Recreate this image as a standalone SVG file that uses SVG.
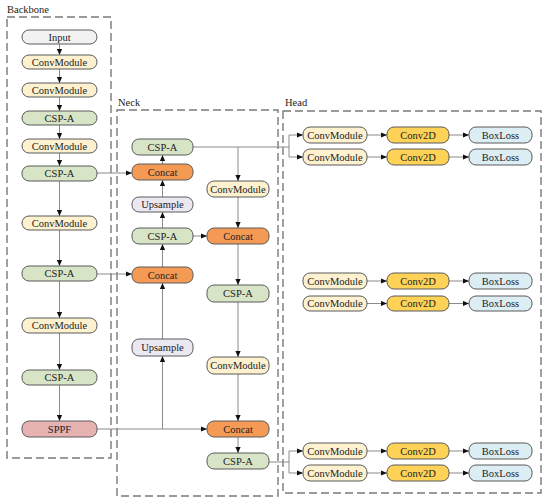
<svg xmlns="http://www.w3.org/2000/svg" width="550" height="503" viewBox="0 0 550 503">
<defs>
<marker id="ah" viewBox="0 0 6 6" refX="6" refY="3" markerWidth="6" markerHeight="6" orient="auto" markerUnits="userSpaceOnUse">
<path d="M0,0.4 L6,3 L0,5.6 Z" fill="#111"/>
</marker>
<style>
.grp{fill:none;stroke:#7a7a7a;stroke-width:1.4;stroke-dasharray:8 4}
.gl{font-family:"Liberation Serif","Times New Roman",serif;font-size:10.5px;fill:#222}
.n rect{stroke:#5a5a5a;stroke-width:1}
.n text{font-family:"Liberation Serif","Times New Roman",serif;font-size:10.5px;fill:#222;text-anchor:middle;dominant-baseline:central}
.in rect{fill:#f2f2f2}
.cm rect{fill:#fdf1cf}
.csp rect{fill:#d8e4c6}
.cc rect{fill:#f59a55}
.up rect{fill:#ebe8f2}
.sp rect{fill:#e7b2b2}
.c2 rect{fill:#fdd257}
.bl rect{fill:#dcedf3}
.e{fill:none;stroke:#8a8a8a;stroke-width:1}
.a{marker-end:url(#ah)}
</style>
</defs>
<rect width="550" height="503" fill="#fff"/>

<g id="groups">
<rect class="grp" x="7" y="17" width="104" height="441"/>
<text class="gl" x="7" y="13">Backbone</text>
<rect class="grp" x="117" y="110" width="161" height="386"/>
<text class="gl" x="118" y="106">Neck</text>
<rect class="grp" x="283" y="111" width="258" height="382"/>
<text class="gl" x="285" y="106">Head</text>
</g>

<g id="connectors">
<!-- backbone chain -->
<path class="e a" d="M59.5,44 V55"/>
<path class="e a" d="M59.5,69 V83"/>
<path class="e a" d="M59.5,97 V111"/>
<path class="e a" d="M59.5,125 V139"/>
<path class="e a" d="M59.5,153 V166"/>
<path class="e a" d="M59.5,181 V216"/>
<path class="e a" d="M59.5,230 V266"/>
<path class="e a" d="M59.5,281 V318"/>
<path class="e a" d="M59.5,333 V370"/>
<path class="e a" d="M59.5,385 V421"/>
<!-- backbone to neck -->
<path class="e a" d="M97,173 H132"/>
<path class="e a" d="M97,274 H132"/>
<path class="e a" d="M97,429 H207"/>
<path class="e a" d="M162.5,429 V356"/>
<!-- neck left column upward -->
<path class="e a" d="M162.5,339 V283"/>
<path class="e a" d="M162.5,267 V244"/>
<path class="e a" d="M162.5,228 V212"/>
<path class="e a" d="M162.5,197 V180"/>
<path class="e a" d="M162.5,164 V155"/>
<path class="e a" d="M193,236 H207"/>
<!-- top CSP-A outputs -->
<path class="e" d="M193,147 H289"/>
<path class="e a" d="M238,147 V181"/>
<path class="e a" d="M289,135 V135 H303"/>
<path class="e" d="M289,135 V157"/>
<path class="e a" d="M289,157 H303"/>
<!-- neck right column downward -->
<path class="e a" d="M238,197 V228"/>
<path class="e a" d="M238,244 V285"/>
<path class="e a" d="M238,302 V357"/>
<path class="e a" d="M238,374 V421"/>
<path class="e a" d="M238,437 V453"/>
<!-- bottom CSP-A to head -->
<path class="e" d="M269,462 H289"/>
<path class="e" d="M289,451 V473"/>
<path class="e a" d="M289,451 H303"/>
<path class="e a" d="M289,473 H303"/>
<!-- head rows -->
<path class="e a" d="M367,135 H387"/>
<path class="e a" d="M449,135 H469"/>
<path class="e a" d="M367,157 H387"/>
<path class="e a" d="M449,157 H469"/>
<path class="e a" d="M367,281 H387"/>
<path class="e a" d="M449,281 H469"/>
<path class="e a" d="M367,303.5 H387"/>
<path class="e a" d="M449,303.5 H469"/>
<path class="e a" d="M367,451 H387"/>
<path class="e a" d="M449,451 H469"/>
<path class="e a" d="M367,473 H387"/>
<path class="e a" d="M449,473 H469"/>
</g>

<!-- Backbone nodes -->
<g id="b_input" class="n in"><rect x="22" y="30" width="75" height="14" rx="7"/><text x="59.5" y="37">Input</text></g>
<g id="b_conv1" class="n cm"><rect x="22" y="55" width="75" height="14" rx="7"/><text x="59.5" y="62">ConvModule</text></g>
<g id="b_conv2" class="n cm"><rect x="22" y="83" width="75" height="14" rx="7"/><text x="59.5" y="90">ConvModule</text></g>
<g id="b_csp1" class="n csp"><rect x="22" y="111" width="75" height="14" rx="7"/><text x="59.5" y="118">CSP-A</text></g>
<g id="b_conv3" class="n cm"><rect x="22" y="139" width="75" height="14" rx="7"/><text x="59.5" y="146">ConvModule</text></g>
<g id="b_csp2" class="n csp"><rect x="22" y="166" width="75" height="15" rx="7"/><text x="59.5" y="173.5">CSP-A</text></g>
<g id="b_conv4" class="n cm"><rect x="22" y="216" width="75" height="14" rx="7"/><text x="59.5" y="223">ConvModule</text></g>
<g id="b_csp3" class="n csp"><rect x="22" y="266" width="75" height="15" rx="7"/><text x="59.5" y="273.5">CSP-A</text></g>
<g id="b_conv5" class="n cm"><rect x="22" y="318" width="75" height="15" rx="7"/><text x="59.5" y="325.5">ConvModule</text></g>
<g id="b_csp4" class="n csp"><rect x="22" y="370" width="75" height="15" rx="7"/><text x="59.5" y="377.5">CSP-A</text></g>
<g id="b_sppf" class="n sp"><rect x="22" y="421" width="75" height="16" rx="7"/><text x="59.5" y="429">SPPF</text></g>

<!-- Neck left column -->
<g id="n_csp_top" class="n csp"><rect x="132" y="139" width="61" height="16" rx="7"/><text x="162.5" y="147">CSP-A</text></g>
<g id="n_concat1" class="n cc"><rect x="132" y="164" width="61" height="16" rx="7"/><text x="162.5" y="172">Concat</text></g>
<g id="n_up1" class="n up"><rect x="132" y="197" width="61" height="15" rx="7"/><text x="162.5" y="204.5">Upsample</text></g>
<g id="n_csp_mid" class="n csp"><rect x="132" y="228" width="61" height="16" rx="7"/><text x="162.5" y="236">CSP-A</text></g>
<g id="n_concat2" class="n cc"><rect x="132" y="267" width="61" height="16" rx="7"/><text x="162.5" y="275">Concat</text></g>
<g id="n_up2" class="n up"><rect x="132" y="339" width="61" height="17" rx="7"/><text x="162.5" y="347.5">Upsample</text></g>

<!-- Neck right column -->
<g id="n_conv1" class="n cm"><rect x="207" y="181" width="62" height="16" rx="7"/><text x="238" y="189">ConvModule</text></g>
<g id="n_concat3" class="n cc"><rect x="207" y="228" width="62" height="16" rx="7"/><text x="238" y="236">Concat</text></g>
<g id="n_csp_r1" class="n csp"><rect x="207" y="285" width="62" height="17" rx="7"/><text x="238" y="293.5">CSP-A</text></g>
<g id="n_conv2" class="n cm"><rect x="207" y="357" width="62" height="17" rx="7"/><text x="238" y="365.5">ConvModule</text></g>
<g id="n_concat4" class="n cc"><rect x="207" y="421" width="62" height="16" rx="7"/><text x="238" y="429">Concat</text></g>
<g id="n_csp_r2" class="n csp"><rect x="207" y="453" width="62" height="16" rx="7"/><text x="238" y="461">CSP-A</text></g>

<!-- Head rows -->
<g id="h1_conv" class="n cm"><rect x="303" y="127" width="64" height="16" rx="7"/><text x="335" y="135">ConvModule</text></g>
<g id="h1_c2d" class="n c2"><rect x="387" y="127" width="62" height="16" rx="7"/><text x="418" y="135">Conv2D</text></g>
<g id="h1_bl" class="n bl"><rect x="469" y="127" width="63" height="16" rx="7"/><text x="500.5" y="135">BoxLoss</text></g>
<g id="h2_conv" class="n cm"><rect x="303" y="149" width="64" height="16" rx="7"/><text x="335" y="157">ConvModule</text></g>
<g id="h2_c2d" class="n c2"><rect x="387" y="149" width="62" height="16" rx="7"/><text x="418" y="157">Conv2D</text></g>
<g id="h2_bl" class="n bl"><rect x="469" y="149" width="63" height="16" rx="7"/><text x="500.5" y="157">BoxLoss</text></g>
<g id="h3_conv" class="n cm"><rect x="303" y="273" width="64" height="16" rx="7"/><text x="335" y="281">ConvModule</text></g>
<g id="h3_c2d" class="n c2"><rect x="387" y="273" width="62" height="16" rx="7"/><text x="418" y="281">Conv2D</text></g>
<g id="h3_bl" class="n bl"><rect x="469" y="273" width="63" height="16" rx="7"/><text x="500.5" y="281">BoxLoss</text></g>
<g id="h4_conv" class="n cm"><rect x="303" y="296" width="64" height="15" rx="7"/><text x="335" y="303.5">ConvModule</text></g>
<g id="h4_c2d" class="n c2"><rect x="387" y="296" width="62" height="15" rx="7"/><text x="418" y="303.5">Conv2D</text></g>
<g id="h4_bl" class="n bl"><rect x="469" y="296" width="63" height="15" rx="7"/><text x="500.5" y="303.5">BoxLoss</text></g>
<g id="h5_conv" class="n cm"><rect x="303" y="443" width="64" height="16" rx="7"/><text x="335" y="451">ConvModule</text></g>
<g id="h5_c2d" class="n c2"><rect x="387" y="443" width="62" height="16" rx="7"/><text x="418" y="451">Conv2D</text></g>
<g id="h5_bl" class="n bl"><rect x="469" y="443" width="63" height="16" rx="7"/><text x="500.5" y="451">BoxLoss</text></g>
<g id="h6_conv" class="n cm"><rect x="303" y="465" width="64" height="16" rx="7"/><text x="335" y="473">ConvModule</text></g>
<g id="h6_c2d" class="n c2"><rect x="387" y="465" width="62" height="16" rx="7"/><text x="418" y="473">Conv2D</text></g>
<g id="h6_bl" class="n bl"><rect x="469" y="465" width="63" height="16" rx="7"/><text x="500.5" y="473">BoxLoss</text></g>
</svg>
